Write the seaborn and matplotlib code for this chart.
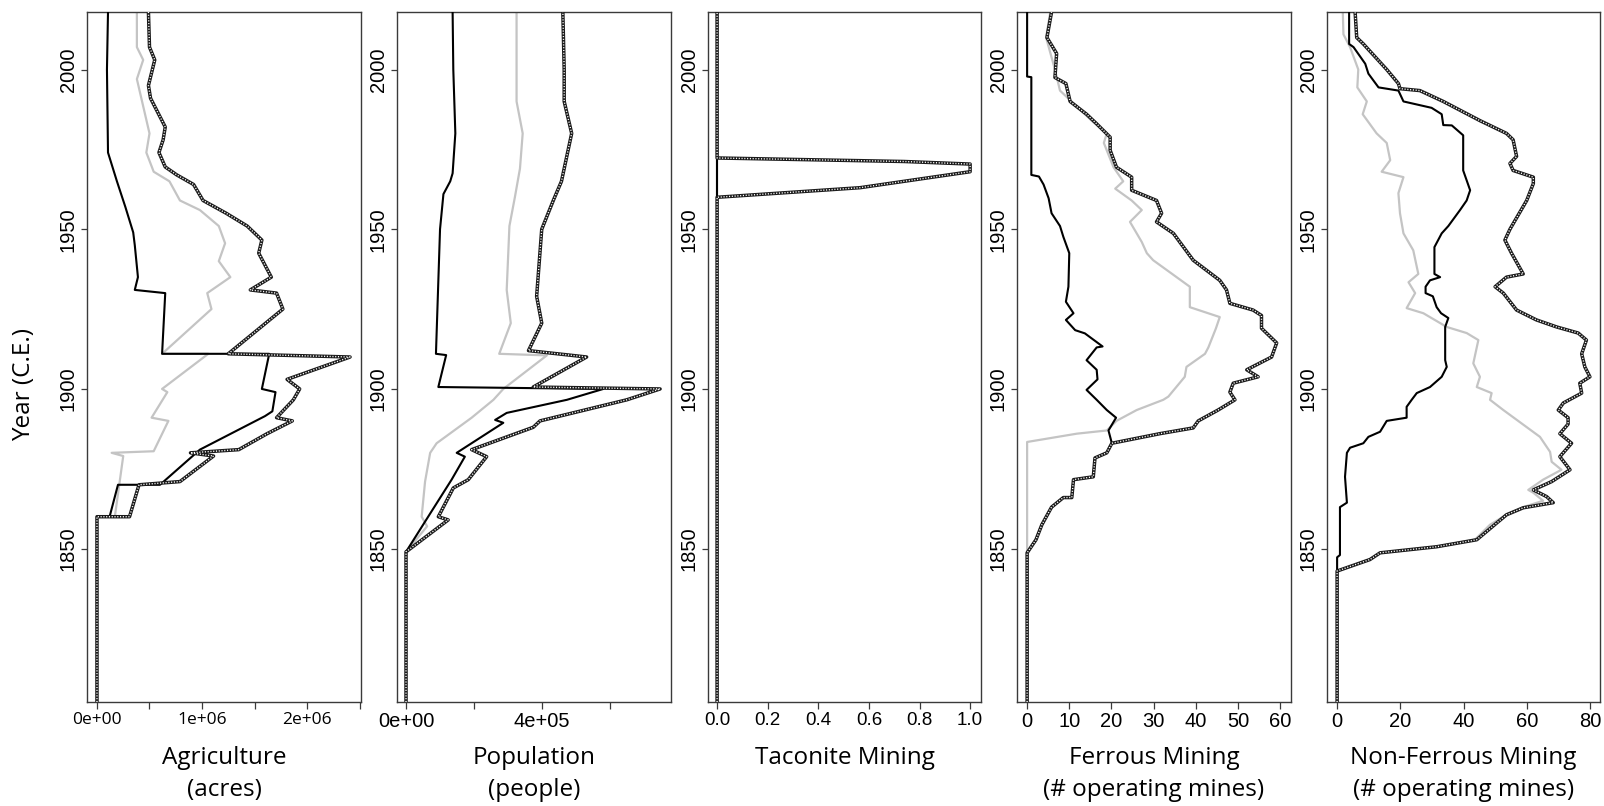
import matplotlib
matplotlib.use("Agg")
import matplotlib.pyplot as plt
import seaborn as sns

# ---------------------------------------------------------------------------
# Data: each series is a (year, value) trace drawn vertically (value on x).
# s1 = solid black, s2 = solid grey, s3 = chequered line
# ---------------------------------------------------------------------------

# Agriculture (acres)
AG_S1_YEAR = [1802, 1860, 1860, 1870, 1870, 1881, 1891.5, 1893, 1899, 1900, 1911, 1911,
              1930, 1931, 1935, 1945, 1949, 1957, 1965, 1974, 2000, 2018]
AG_S1 = [0, 0, 0.12e6, 0.20e6, 0.60e6, 0.98e6, 1.60e6, 1.67e6, 1.70e6, 1.57e6, 1.64e6, 0.62e6,
         0.65e6, 0.36e6, 0.39e6, 0.36e6, 0.345e6, 0.27e6, 0.19e6, 0.105e6, 0.095e6, 0.105e6]

AG_S2_YEAR = [1802, 1860, 1860, 1879, 1880, 1880.5, 1890, 1891, 1899, 1900, 1911, 1911,
              1925, 1930, 1935, 1940, 1945.6, 1951, 1956, 1959, 1965, 1968, 1974, 1980,
              1997, 2003, 2007, 2018]
AG_S2 = [0, 0, 0.17e6, 0.25e6, 0.14e6, 0.54e6, 0.68e6, 0.52e6, 0.67e6, 0.62e6, 1.06e6, 0.62e6,
         1.09e6, 1.05e6, 1.27e6, 1.16e6, 1.22e6, 1.16e6, 0.98e6, 0.79e6, 0.69e6, 0.54e6, 0.47e6,
         0.50e6, 0.38e6, 0.44e6, 0.38e6, 0.38e6]

AG_S3_YEAR = [1802, 1860, 1860, 1870, 1871, 1879, 1880, 1881, 1886, 1890, 1891, 1896.6,
              1900, 1903, 1910, 1911, 1925, 1930, 1931, 1935, 1942.5, 1946.6, 1951, 1955,
              1959, 1964, 1967, 1969.5, 1974, 1978, 1982, 1991, 1995, 2003, 2007, 2018]
AG_S3 = [0, 0, 0.31e6, 0.40e6, 0.79e6, 1.11e6, 0.89e6, 1.35e6, 1.62e6, 1.86e6, 1.71e6, 1.87e6,
         1.93e6, 1.81e6, 2.41e6, 1.25e6, 1.77e6, 1.71e6, 1.46e6, 1.66e6, 1.54e6, 1.57e6, 1.43e6,
         1.23e6, 1.01e6, 0.92e6, 0.76e6, 0.65e6, 0.59e6, 0.63e6, 0.65e6, 0.51e6, 0.49e6, 0.55e6,
         0.50e6, 0.49e6]

# Population (people)
POP_S1_YEAR = [1802, 1849, 1861, 1871.6, 1878.8, 1880, 1889.4, 1890.3, 1892.5, 1896.6, 1900,
               1900.6, 1910.6, 1911, 1950, 1961, 1965, 1967.5, 1980, 2000, 2018]
POP_S1 = [0, 0, 71e3, 134e3, 173e3, 149e3, 286e3, 262e3, 296e3, 473e3, 580e3,
          95e3, 118e3, 88e3, 100e3, 110e3, 130e3, 137e3, 145e3, 139e3, 137e3]

POP_S2_YEAR = [1802, 1849, 1857, 1860, 1871, 1880, 1883, 1891, 1896.6, 1900, 1910.5, 1911,
               1920.6, 1931, 1951, 1960, 1969, 1980, 1990, 2018]
POP_S2 = [0, 0, 62e3, 46e3, 56e3, 71e3, 90e3, 193e3, 257e3, 286e3, 414e3, 274e3,
          308e3, 296e3, 304e3, 320e3, 335e3, 343e3, 325e3, 325e3]

POP_S3_YEAR = [1802, 1849, 1859, 1860, 1869, 1871.6, 1878.8, 1881, 1888, 1890, 1896.6, 1900,
               1900.6, 1910, 1912, 1920.6, 1929, 1950, 1959, 1965, 1980, 1990, 2000, 2018]
POP_S3 = [0, 0, 124e3, 95e3, 139e3, 183e3, 237e3, 193e3, 374e3, 394e3, 649e3, 747e3,
          374e3, 531e3, 360e3, 399e3, 384e3, 399e3, 433e3, 457e3, 487e3, 465e3, 465e3, 461e3]

# Taconite mining
TAC_S1_YEAR = [1802, 2018]
TAC_S1 = [0, 0]
TAC_S2_YEAR = [1802, 2018]
TAC_S2 = [0, 0]
TAC_S3_YEAR = [1802, 1960, 1963, 1968, 1970.4, 1971.2, 1972.3, 2018]
TAC_S3 = [0, 0, 0.565, 1.0, 1.0, 0.74, 0, 0]

# Ferrous mining (# operating mines)
FE_S1_YEAR = [1802, 1848.7, 1852.8, 1857.5, 1863, 1866, 1866, 1871.6, 1872.5, 1878.4, 1880,
              1883, 1887, 1891, 1893.4, 1896.6, 1899.7, 1903, 1906, 1909, 1913, 1913.3,
              1917.4, 1918.4, 1921.6, 1923.7, 1927.3, 1932, 1942.5, 1947.6, 1951, 1955,
              1959.7, 1964, 1966.5, 1967, 1997.6, 1997.8, 2018]
FE_S1 = [0, 0, 2.1, 3.5, 5.8, 8.6, 10.6, 11.0, 15.7, 16.1, 18.9,
         20.1, 19.3, 21.1, 18.9, 16.5, 14.1, 16.7, 16.5, 14.1, 16.5, 17.9,
         13.7, 11.4, 9.2, 11.0, 9.2, 9.8, 10.0, 8.6, 7.8, 5.8,
         5.1, 3.9, 2.8, 1.0, 1.0, 0, 0]

FE_S2_YEAR = [1802, 1883.4, 1886, 1887, 1890, 1893.4, 1896.6, 1897.6, 1903.8, 1906.9, 1911,
              1913, 1919, 1922.5, 1925.6, 1932, 1940.3, 1942.5, 1946, 1952.3, 1956, 1959,
              1962.7, 1965, 1969.4, 1977, 1980, 1984, 1993.4, 2000, 2010, 2018]
FE_S2 = [0, 0, 11.8, 18.9, 21.2, 26.0, 32.3, 33.5, 37.4, 37.8, 42.2,
         43.0, 44.8, 45.7, 38.6, 38.6, 29.9, 28.4, 27.2, 24.4, 27.2, 24.8,
         20.9, 22.8, 20.5, 18.2, 18.9, 15.3, 7.8, 6.6, 4.5, 5.5]

FE_S3_YEAR = [1802, 1848.7, 1852.8, 1857.5, 1863, 1866, 1866, 1871.6, 1872.5, 1878.4, 1880,
              1883, 1886, 1887.8, 1890, 1893.4, 1896.6, 1899, 1901.8, 1903.8, 1906, 1910,
              1914.4, 1919, 1923, 1924.7, 1926.8, 1931, 1934, 1940.3, 1948.7, 1952.3, 1955,
              1959, 1962.2, 1966.3, 1969.4, 1974.7, 1978.8, 1983, 1986, 1990, 1995.6, 1997.5,
              2005, 2010, 2018]
FE_S3 = [0, 0, 2.1, 3.5, 5.8, 8.6, 10.6, 11.0, 15.7, 16.1, 18.9,
         20.1, 31.5, 39.4, 40.6, 45.3, 49.3, 48.1, 48.9, 54.8, 52.1, 58.0,
         59.2, 55.6, 55.6, 53.6, 48.1, 47.3, 45.7, 39.4, 34.7, 30.7, 31.9,
         30.7, 24.8, 24.8, 21.2, 19.7, 19.7, 16.5, 14.1, 10.2, 9.2, 6.6,
         7.0, 4.7, 5.8]

# Non-ferrous mining (# operating mines)
NF_S1_YEAR = [1802, 1847.3, 1848, 1863, 1864.4, 1872.5, 1880, 1881.6, 1883, 1885, 1886.6,
              1890, 1891, 1894.4, 1896.6, 1898.7, 1900.6, 1903.8, 1906.9, 1909, 1919.4,
              1922.2, 1923.7, 1925.6, 1929, 1930, 1932, 1934, 1935, 1936, 1944.4, 1948.7,
              1951, 1956, 1959, 1962.2, 1968.4, 1979.4, 1982.5, 1982.6, 1986, 1988, 1990,
              1993.4, 1994.4, 1998.7, 2001.8, 2007, 2008, 2018]
NF_S1 = [0, 0, 0.9, 0.9, 3.1, 2.5, 3.1, 4.1, 8.3, 9.9, 13.6,
         15.7, 22.0, 22.0, 23.6, 25.2, 29.4, 33.1, 34.7, 34.2, 34.2,
         35.2, 32.9, 31.5, 30.3, 28.0, 28.0, 29.4, 32.6, 30.8, 30.8, 33.1,
         35.2, 38.9, 41.0, 42.1, 39.9, 39.9, 36.3, 33.6, 33.1, 29.9, 21.0,
         19.4, 13.1, 9.9, 8.9, 5.2, 3.8, 3.8]

NF_S2_YEAR = [1802, 1843, 1846.6, 1848.7, 1850.6, 1852.8, 1857.5, 1860.6, 1863, 1865, 1867.5,
              1868.4, 1871.6, 1874.7, 1877.2, 1880.3, 1885, 1893.4, 1896.6, 1898.7, 1900.6,
              1903.8, 1908, 1915.3, 1917.5, 1919.4, 1923.7, 1925.3, 1930, 1933.4, 1936,
              1943.4, 1948.7, 1955, 1961.3, 1966.3, 1968, 1971.6, 1977, 1980, 1986, 1990,
              1994.4, 2000, 2007, 2011, 2018]
NF_S2 = [0, 0, 10.4, 13.6, 31.5, 43.6, 48.4, 53.6, 58.9, 65.2, 62.1,
         60.5, 65.2, 71.0, 67.9, 67.4, 64.2, 52.6, 48.4, 48.9, 44.2,
         45.2, 43.1, 44.7, 41.0, 34.7, 27.3, 22.0, 24.7, 22.6, 25.7,
         24.1, 21.0, 19.9, 19.4, 21.0, 14.1, 16.8, 15.7, 12.5, 8.1, 9.4,
         6.4, 6.7, 4.1, 2.0, 1.8]

NF_S3_YEAR = [1802, 1843, 1846.6, 1848.7, 1850.6, 1852.8, 1860.6, 1862.8, 1864.4, 1866.3,
              1868.4, 1871, 1874.7, 1878.8, 1883, 1886, 1889, 1891, 1893.4, 1895.6, 1898.7,
              1901.8, 1903.8, 1906.9, 1911, 1915.3, 1917.5, 1919.4, 1921.6, 1924.7, 1930,
              1932, 1935, 1936, 1942.5, 1946.6, 1950, 1959, 1964.3, 1966.3, 1968.4, 1970.6,
              1972.8, 1978, 1980, 1984, 1990, 1993.4, 1994, 1995.6, 2000, 2008, 2010, 2018]
NF_S3 = [0, 0, 10.4, 13.6, 31.5, 44.2, 53.6, 58.9, 68.4, 66.3,
         62.1, 67.9, 73.7, 70.5, 74.2, 70.5, 73.1, 73.1, 70.0, 71.6, 77.4,
         76.8, 80.0, 78.4, 77.4, 78.9, 76.3, 69.5, 63.1, 56.8, 52.6,
         50.0, 53.6, 58.9, 55.2, 53.1, 54.7, 60.0, 62.1, 62.1, 55.7, 54.7,
         56.8, 55.7, 53.6, 45.2, 33.6, 26.2, 19.9, 19.4, 15.7, 8.3, 6.2, 5.7]

PANEL_TITLES = ["Agriculture\n(acres)", "Population\n(people)", "Taconite Mining",
                "Ferrous Mining\n(# operating mines)", "Non-Ferrous Mining\n(# operating mines)"]
YEAR_TICKS = [1850, 1900, 1950, 2000]
X_TICKS = [
    [0, 0.5e6, 1.0e6, 1.5e6, 2.0e6, 2.5e6],
    [0, 2e5, 4e5, 6e5],
    [0, 0.2, 0.4, 0.6, 0.8, 1.0],
    [0, 10, 20, 30, 40, 50, 60],
    [0, 20, 40, 60, 80],
]
X_TICK_LABELS = [
    ["0e+00", "", "1e+06", "", "2e+06", ""],
    ["0e+00", "", "4e+05", ""],
    ["0.0", "0.2", "0.4", "0.6", "0.8", "1.0"],
    ["0", "10", "20", "30", "40", "50", "60"],
    ["0", "20", "40", "60", "80"],
]

PANELS = [
    [(AG_S1_YEAR, AG_S1), (AG_S2_YEAR, AG_S2), (AG_S3_YEAR, AG_S3)],
    [(POP_S1_YEAR, POP_S1), (POP_S2_YEAR, POP_S2), (POP_S3_YEAR, POP_S3)],
    [(TAC_S1_YEAR, TAC_S1), (TAC_S2_YEAR, TAC_S2), (TAC_S3_YEAR, TAC_S3)],
    [(FE_S1_YEAR, FE_S1), (FE_S2_YEAR, FE_S2), (FE_S3_YEAR, FE_S3)],
    [(NF_S1_YEAR, NF_S1), (NF_S2_YEAR, NF_S2), (NF_S3_YEAR, NF_S3)],
]

# ---------------------------------------------------------------------------
# Layout
# ---------------------------------------------------------------------------
W, H = 1604, 806
sns.set_style("ticks")
plt.rcParams["font.family"] = ["Liberation Sans", "DejaVu Sans"]
plt.rcParams["text.color"] = "black"
plt.rcParams["xtick.labelcolor"] = "black"
plt.rcParams["ytick.labelcolor"] = "black"

fig = plt.figure(figsize=(W / 100, H / 100), dpi=100)

LEFTS = [87, 397, 708, 1017, 1327]
RIGHTS = [361, 671, 981, 1291, 1600]
TOP, BOTTOM = 12, 702
XLIMS = [(-0.095e6, 2.514e6), (-26.5e3, 779e3), (-0.036, 1.043), (-2.4, 62.6), (-3.2, 83.2)]

LABEL_FONT = "Open Sans"
EDGE = "#3a3a3a"

for i, series in enumerate(PANELS):
    l, r = LEFTS[i], RIGHTS[i]
    ax = fig.add_axes([l / W, 1 - BOTTOM / H, (r - l) / W, (BOTTOM - TOP) / H])

    (y1, v1), (y2, v2), (y3, v3) = series
    common = dict(ax=ax, sort=False, estimator=None, legend=False)
    sns.lineplot(x=v2, y=y2, color="#c4c4c4", linewidth=1.6, zorder=2, **common)
    sns.lineplot(x=v1, y=y1, color="black", linewidth=1.5, zorder=3, **common)
    # chequered line: dark core with a fine white dotted overlay
    sns.lineplot(x=v3, y=y3, color="#1a1a1a", linewidth=2.5, zorder=4, **common)
    sns.lineplot(x=v3, y=y3, color="white", linewidth=1.0, linestyle=(0, (0.8, 1.2)),
                 zorder=5, **common)

    ax.set_xlim(*XLIMS[i])
    ax.set_ylim(1802, 2018)
    ax.set_xlabel("")
    ax.set_ylabel("")

    for sp in ax.spines.values():
        sp.set_visible(True)
        sp.set_color(EDGE)
        sp.set_linewidth(1.0)

    ax.set_yticks(YEAR_TICKS)
    ax.set_yticklabels([str(t) for t in YEAR_TICKS])
    ax.tick_params(axis="y", length=4.5, width=0.9, color=EDGE, pad=2, labelsize=14.5)
    for lab in ax.get_yticklabels():
        lab.set_rotation(90)
        lab.set_va("center")
        lab.set_ha("right")

    ax.set_xticks(X_TICKS[i])
    ax.set_xticklabels(X_TICK_LABELS[i])
    if i == 0:
        ax.tick_params(axis="x", length=5, width=0.9, color=EDGE, pad=2)
        for lab in ax.get_xticklabels():
            lab.set_fontfamily(LABEL_FONT)
            lab.set_fontsize(12.5)
    else:
        ax.tick_params(axis="x", length=5, width=0.9, color=EDGE, pad=2,
                       labelsize=13.5 if i == 2 else 14.5)

    cx = (l + r) / 2 / W
    fig.text(cx, 1 - 746 / H, PANEL_TITLES[i], ha="center", va="top",
             fontfamily=LABEL_FONT, fontsize=17.5, linespacing=1.45)

fig.text(24 / W, 1 - 384 / H, "Year (C.E.)", rotation=90, ha="center", va="center",
         fontfamily=LABEL_FONT, fontsize=17.5)

fig.savefig("out.png", dpi=100, facecolor="white")
